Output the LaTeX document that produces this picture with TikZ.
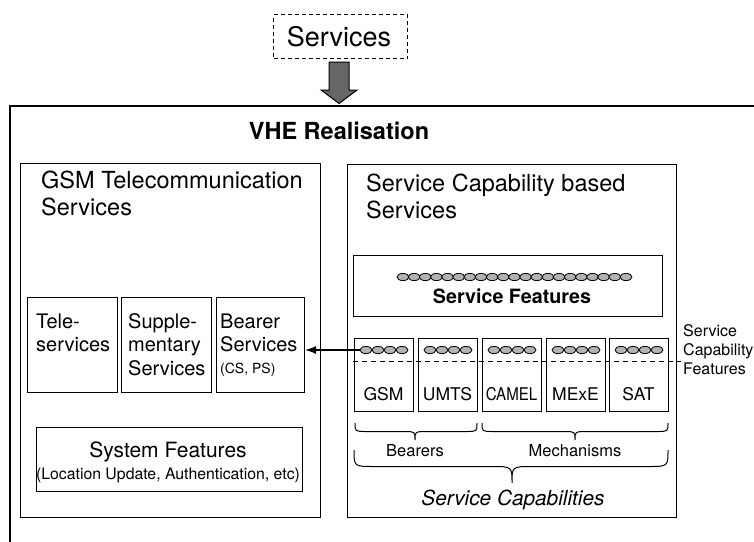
\documentclass[tikz,border=0pt]{standalone}
\usepackage{fontspec}
\setmainfont{TeX Gyre Heros}
\usetikzlibrary{arrows.meta,calc}

% curly brace opening downwards: xl, xr, ytop, ytip, xtip, corner radius
\newcommand\downbrace[6]{%
  \draw[bracestyle] (#1,#3) .. controls (#1,{(#3+#4)/2}) .. ({#1+#6},{(#3+#4)/2})
    -- ({#5-#6},{(#3+#4)/2}) .. controls (#5,{(#3+#4)/2}) .. (#5,#4)
    .. controls (#5,{(#3+#4)/2}) .. ({#5+#6},{(#3+#4)/2})
    -- ({#2-#6},{(#3+#4)/2}) .. controls (#2,{(#3+#4)/2}) .. (#2,#3);}

\tikzset{
  frame/.style={draw, line width=1.1pt, inner sep=0pt, anchor=north west},
  bead/.style={draw, line width=0.8pt, fill=black!30},
  bracestyle/.style={line width=1pt},
  txt/.style={inner sep=0pt, align=left},
}

\begin{document}
\begin{tikzpicture}[x=1pt, y=-1pt, line join=miter]
\useasboundingbox (0,0) rectangle (754,541);

% incoming services and block arrow
\node[frame, dashed, dash pattern=on 4pt off 3pt, line width=1pt,
      minimum width=134pt, minimum height=44pt] (svc) at (273,14) {};
\node[txt, anchor=base, font=\fontsize{27}{30}\selectfont] (svct) at (339,46) {Services};
\draw[line width=1pt, fill=black!60]
  (329,62) -- (349,62) -- (349,90) -- (357,90) -- (339,103.5) -- (321,90) -- (329,90) -- cycle;

% VHE frame (runs off the page to the right and bottom)
\draw[line width=1.2pt] (10,548) -- (10,106) -- (760,106);
\node[txt, anchor=base, font=\bfseries\fontsize{23.5}{27}\selectfont] (vhe) at (339,139) {VHE Realisation};

% GSM telecommunication services (multi-line texts are placed by their last baseline)
\node[frame, minimum width=300pt, minimum height=354pt] (gsm) at (20,163) {};
\node[txt, anchor=base west, font=\fontsize{23.5}{27}\selectfont] (gsmt) at (41,215)
  {GSM Telecommunication\\Services};

\node[frame, minimum width=90pt, minimum height=95pt] (tele) at (27,297) {};
\node[frame, minimum width=90pt, minimum height=95pt] (supp) at (121,297) {};
\node[frame, minimum width=88pt, minimum height=95pt] (bearer) at (216,297) {};
\node[txt, anchor=base west, font=\fontsize{20}{23.5}\selectfont] (telet) at (36,351.5) {Tele-\\services};
\node[txt, anchor=base west, font=\fontsize{20}{23.5}\selectfont] (suppt) at (128,375) {Supple-\\mentary\\Services};
\node[txt, anchor=base west, font=\fontsize{20}{23.5}\selectfont] (beart) at (220,351.5) {Bearer\\Services};
\node[txt, anchor=base west, font=\fontsize{14}{16}\selectfont] (bearcs) at (220,373) {(CS, PS)};

\node[frame, minimum width=266pt, minimum height=64pt] (sysf) at (36,427) {};
\node[txt, anchor=base, font=\fontsize{21}{24}\selectfont] (sysft) at (168,457) {System Features};
\node[txt, anchor=base, font=\fontsize{15.8}{18}\selectfont] (sysfs) at (168,479)
  {(Location Update, Authentication, etc)};

% service capability based services
\node[frame, minimum width=329pt, minimum height=353pt] (scb) at (347,164) {};
\node[txt, anchor=base west, font=\fontsize{23.5}{27}\selectfont] (scbt) at (366,218)
  {Service Capability based\\Services};

\node[frame, minimum width=309pt, minimum height=61pt] (sfeat) at (353,255) {};
\foreach \k in {0,...,20}
  \draw[bead] ({403+\k*11.15},277) ellipse [x radius=6pt, y radius=3.6pt];
\node[txt, anchor=base, font=\bfseries\fontsize{19.7}{22}\selectfont] (sfeatt) at (512,303) {Service Features};

% service capabilities
\foreach \x/\nm in {354/bgsm,418/bumts,482/bcamel,546/bmexe,609/bsat} {
  \node[frame, minimum width=59pt, minimum height=73pt] (\nm) at (\x,338) {};
  \foreach \k in {0,...,3}
    \draw[bead] ({\x+12+\k*12},350) ellipse [x radius=6pt, y radius=3.6pt];
}
\node[txt, anchor=base, font=\fontsize{17.5}{20}\selectfont] (lgsm) at (383.5,400) {GSM};
\node[txt, anchor=base, font=\fontsize{17.5}{20}\selectfont] (lumts) at (447.5,400) {UMTS};
\node[txt, anchor=base, font=\fontsize{17.5}{20}\selectfont] (lcamel) at (511.5,400) {\scalebox{0.86}[1]{CAMEL}};
\node[txt, anchor=base, font=\fontsize{17.5}{20}\selectfont] (lmexe) at (575.5,400) {MExE};
\node[txt, anchor=base, font=\fontsize{17.5}{20}\selectfont] (lsat) at (638.5,400) {SAT};

% capability features boundary
\coordinate (dl) at (353,361);
\coordinate (dr) at (681,361);
\draw[line width=0.9pt, dash pattern=on 5pt off 4pt] (dl) -- (dr);
\node[txt, anchor=base west, font=\fontsize{16}{19}\selectfont] (scf) at (683,374)
  {Service\\Capability\\Features};

% bearer services use the bearer capability
\coordinate (cs) at (360,350);
\draw[line width=1.1pt, -{Latex[length=11pt, width=8pt]}] (cs) -- (cs -| bearer.east);

% braces
\downbrace{355}{477}{423}{440}{415}{11}
\downbrace{482}{668}{423}{440}{575}{11}
\downbrace{354}{668}{450}{483}{512}{20}
\node[txt, anchor=base, font=\fontsize{16.5}{19}\selectfont] (bear) at (415,456) {Bearers};
\node[txt, anchor=base, font=\fontsize{16.5}{19}\selectfont] (mech) at (575,456) {Mechanisms};
\node[txt, anchor=base, font=\itshape\fontsize{20.8}{24}\selectfont] (scap) at (513,505) {Service Capabilities};
\end{tikzpicture}
\end{document}
